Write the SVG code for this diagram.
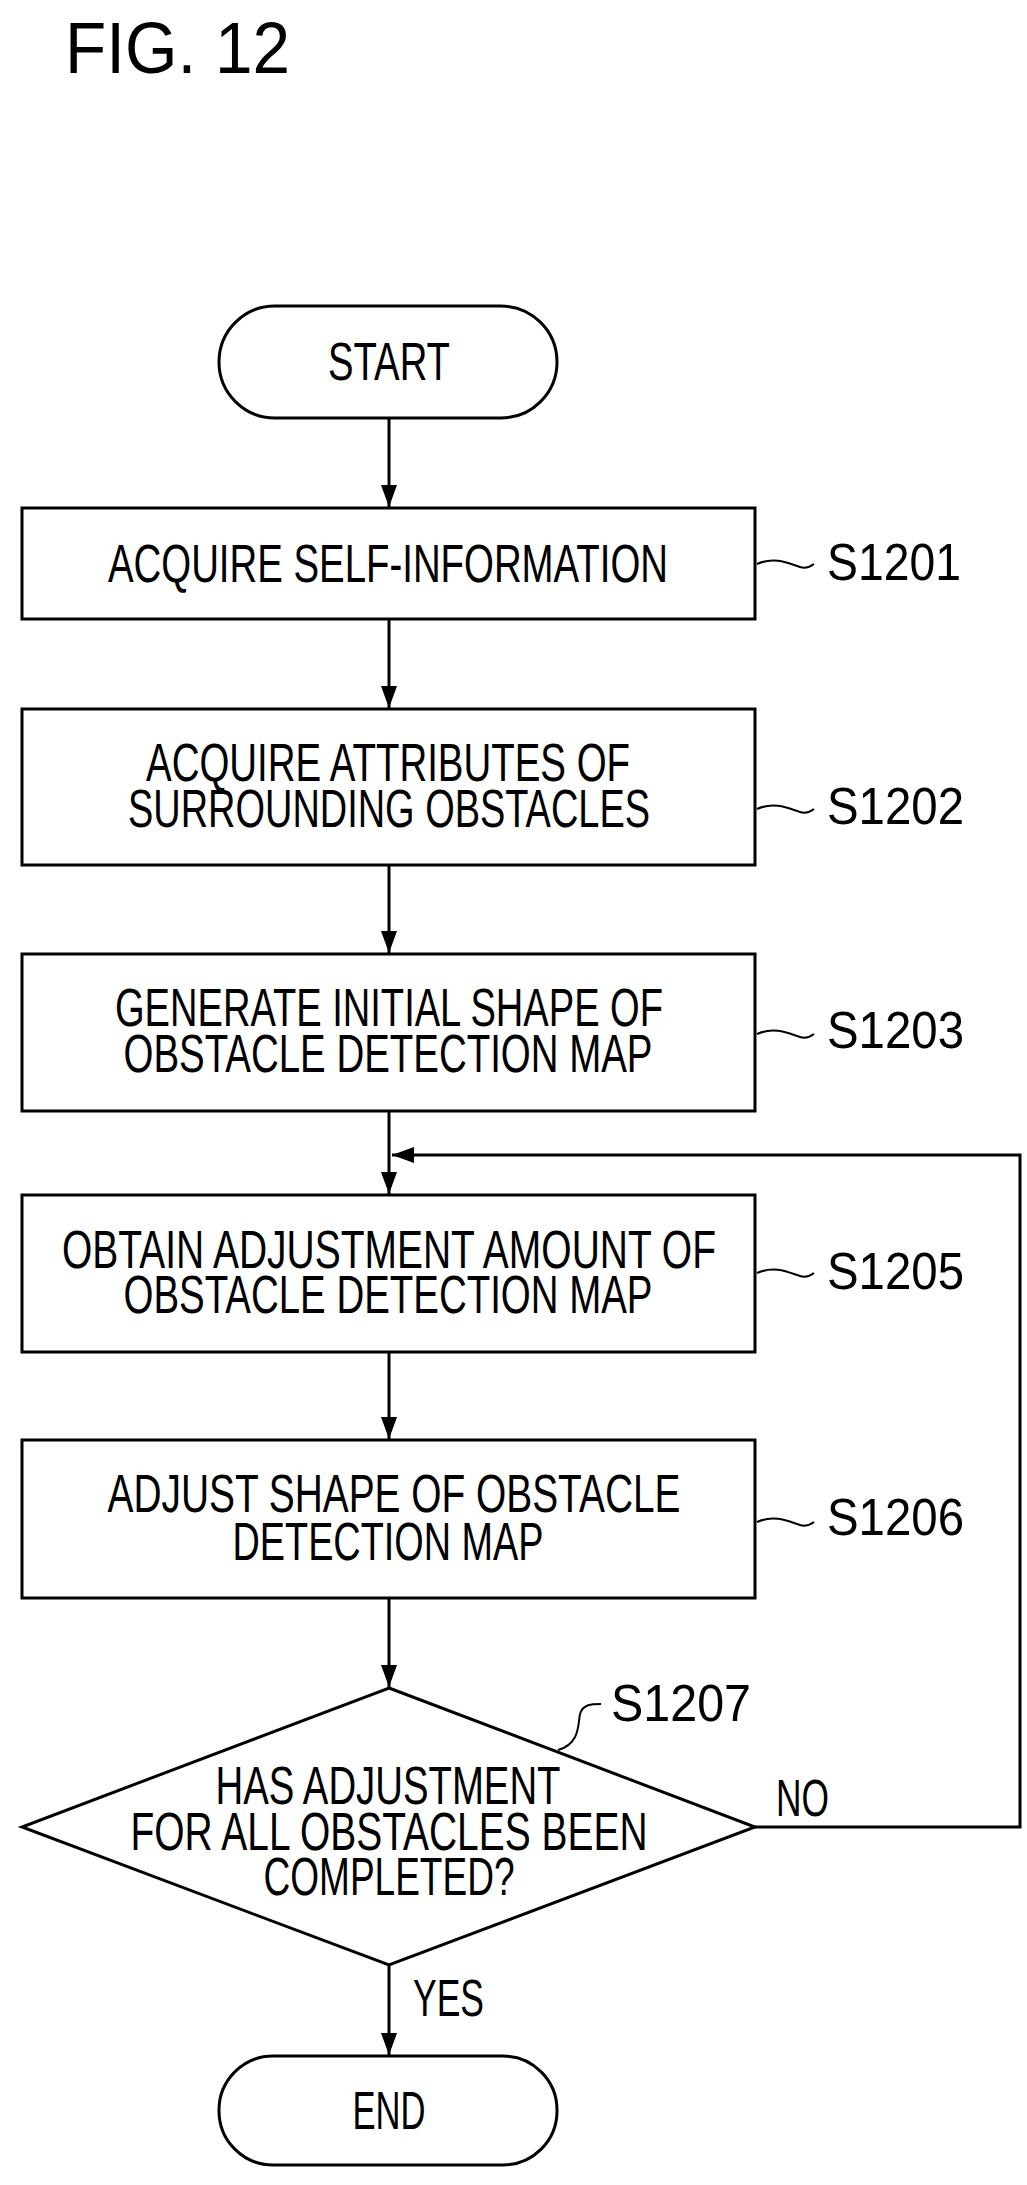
<svg xmlns="http://www.w3.org/2000/svg" width="1027" height="2185" viewBox="0 0 1027 2185">
<style>
.s{fill:#fff;stroke:#000;stroke-width:3}
.c{fill:none;stroke:#000;stroke-width:3}
.w{fill:none;stroke:#000;stroke-width:2}
.t{font-family:"Liberation Sans",Arial,sans-serif;font-size:54px;fill:#000}
.l{font-family:"Liberation Sans",Arial,sans-serif;font-size:52px;fill:#000}
.m{text-anchor:middle}
</style>
<defs><marker id="a" markerWidth="22" markerHeight="16" refX="22" refY="8" orient="auto" markerUnits="userSpaceOnUse" viewBox="0 0 22 16"><path d="M0,0 L22,8 L0,16 Z" fill="#000"/></marker></defs>
<text x="65" y="73" style="font-family:'Liberation Sans',Arial,sans-serif;font-size:72px" textLength="225" lengthAdjust="spacingAndGlyphs">FIG. 12</text>
<g id="connectors">
<line class="c" x1="389" y1="418" x2="389" y2="507" marker-end="url(#a)"/>
<line class="c" x1="389" y1="619" x2="389" y2="708" marker-end="url(#a)"/>
<line class="c" x1="389" y1="865" x2="389" y2="953" marker-end="url(#a)"/>
<line class="c" x1="389" y1="1111" x2="389" y2="1194" marker-end="url(#a)"/>
<line class="c" x1="389" y1="1352" x2="389" y2="1439" marker-end="url(#a)"/>
<line class="c" x1="389" y1="1598" x2="389" y2="1687" marker-end="url(#a)"/>
<line class="c" x1="389" y1="1965" x2="389" y2="2055" marker-end="url(#a)"/>
<polyline class="c" points="755,1827 1020,1827 1020,1155 392,1155" marker-end="url(#a)"/>
<path class="w" d="M757,564 C775,556 790,564 800,567 C806,569 810,567 814,564"/>
<path class="w" d="M757,809 C775,801 790,809 800,812 C806,814 810,812 814,809"/>
<path class="w" d="M757,1034 C775,1026 790,1034 800,1037 C806,1039 810,1037 814,1034"/>
<path class="w" d="M757,1273 C775,1265 790,1273 800,1276 C806,1278 810,1276 814,1273"/>
<path class="w" d="M757,1522 C775,1514 790,1522 800,1525 C806,1527 810,1525 814,1522"/>
<path class="w" d="M558,1750 C580,1744 578,1724 580,1714 C583,1704 592,1704 601,1704"/>
<text class="l" x="776" y="1816" textLength="53" lengthAdjust="spacingAndGlyphs">NO</text>
<text class="l" x="413" y="2016" textLength="71" lengthAdjust="spacingAndGlyphs">YES</text>
</g>
<g id="start"><rect class="s" x="219" y="306" width="338" height="112" rx="56"/><text class="t m" x="389" y="380" textLength="122" lengthAdjust="spacingAndGlyphs">START</text></g>
<g id="s1201"><rect class="s" x="22" y="508" width="733" height="111"/><text class="t m" x="388" y="582" textLength="560" lengthAdjust="spacingAndGlyphs">ACQUIRE SELF-INFORMATION</text><text class="l" x="827" y="580" textLength="134" lengthAdjust="spacingAndGlyphs">S1201</text></g>
<g id="s1202"><rect class="s" x="22" y="709" width="733" height="156"/><text class="t m" x="388" y="781" textLength="484" lengthAdjust="spacingAndGlyphs">ACQUIRE ATTRIBUTES OF</text><text class="t m" x="389" y="827" textLength="522" lengthAdjust="spacingAndGlyphs">SURROUNDING OBSTACLES</text><text class="l" x="827" y="824" textLength="137" lengthAdjust="spacingAndGlyphs">S1202</text></g>
<g id="s1203"><rect class="s" x="22" y="954" width="733" height="157"/><text class="t m" x="389" y="1026" textLength="548" lengthAdjust="spacingAndGlyphs">GENERATE INITIAL SHAPE OF</text><text class="t m" x="388" y="1072" textLength="529" lengthAdjust="spacingAndGlyphs">OBSTACLE DETECTION MAP</text><text class="l" x="827" y="1048" textLength="137" lengthAdjust="spacingAndGlyphs">S1203</text></g>
<g id="s1205"><rect class="s" x="22" y="1195" width="733" height="157"/><text class="t m" x="389" y="1268" textLength="654" lengthAdjust="spacingAndGlyphs">OBTAIN ADJUSTMENT AMOUNT OF</text><text class="t m" x="388" y="1313" textLength="529" lengthAdjust="spacingAndGlyphs">OBSTACLE DETECTION MAP</text><text class="l" x="827" y="1289" textLength="137" lengthAdjust="spacingAndGlyphs">S1205</text></g>
<g id="s1206"><rect class="s" x="22" y="1440" width="733" height="158"/><text class="t m" x="394" y="1512" textLength="573" lengthAdjust="spacingAndGlyphs">ADJUST SHAPE OF OBSTACLE</text><text class="t m" x="388" y="1560" textLength="311" lengthAdjust="spacingAndGlyphs">DETECTION MAP</text><text class="l" x="827" y="1535" textLength="137" lengthAdjust="spacingAndGlyphs">S1206</text></g>
<g id="s1207"><polygon class="s" points="389,1688 755,1827 389,1965 22,1827"/><text class="t m" x="388" y="1804" textLength="345" lengthAdjust="spacingAndGlyphs">HAS ADJUSTMENT</text><text class="t m" x="389" y="1850" textLength="517" lengthAdjust="spacingAndGlyphs">FOR ALL OBSTACLES BEEN</text><text class="t m" x="389" y="1895" textLength="251" lengthAdjust="spacingAndGlyphs">COMPLETED?</text><text class="l" x="611" y="1721" textLength="140" lengthAdjust="spacingAndGlyphs">S1207</text></g>
<g id="end"><rect class="s" x="219" y="2056" width="338" height="109" rx="54"/><text class="t m" x="389" y="2129" textLength="73" lengthAdjust="spacingAndGlyphs">END</text></g>
</svg>
